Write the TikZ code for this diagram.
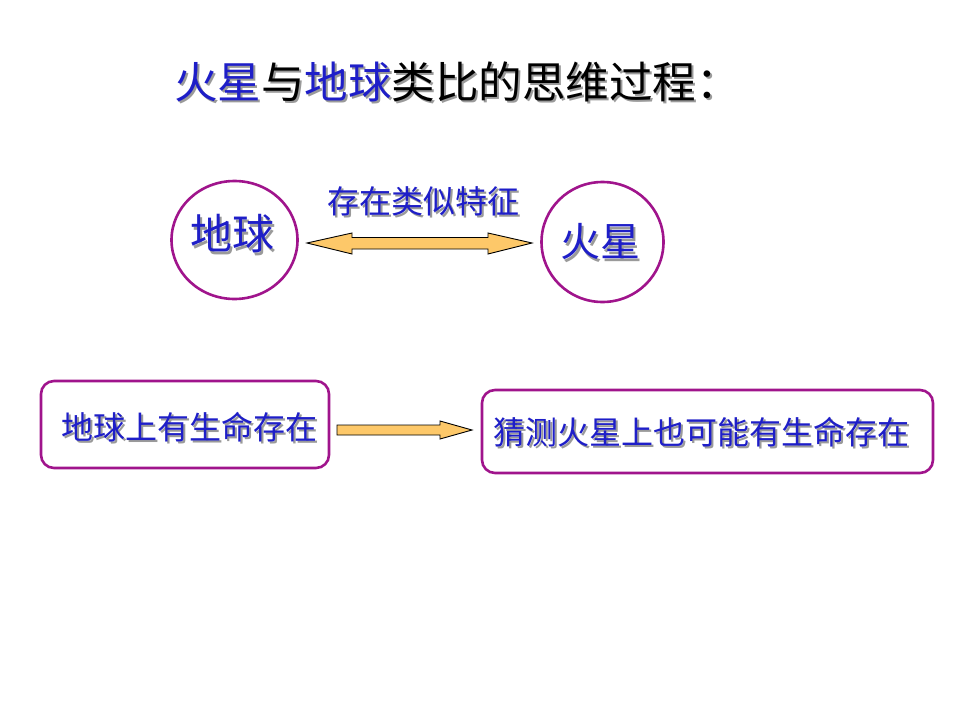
\documentclass[tikz,border=0pt]{standalone}
\usepackage{fontspec}
\setmainfont{Noto Sans CJK SC}
\newfontfamily\cjk{Noto Sans CJK SC}
\definecolor{ringc}{HTML}{A0148C}
\definecolor{txtblue}{HTML}{1E1EC8}
\definecolor{shadowc}{HTML}{9A9A9A}
\definecolor{arrowfill}{HTML}{FDC869}
\tikzset{
  ring/.style={draw=ringc, line width=2.6pt},
  rbox/.style={draw=ringc, line width=2.6pt, rounded corners=13pt},
  blockarrow/.style={draw=black, line width=0.9pt, fill=arrowfill, line join=miter},
  bluetxt/.style={text=txtblue, inner sep=0pt, anchor=center},
}
% text with a grey drop shadow, set as one box
\newcommand{\shadowed}[2]{% colour-of-text, text
  \rlap{\hspace{2.2pt}\raisebox{-2.2pt}{\textcolor{shadowc}{#2}}}\textcolor{#1}{#2}}
\newcommand{\shtext}[5]{% name, x, y, size, text
  \node[bluetxt, font=\cjk\fontsize{#4}{#4}\selectfont] (#1) at (#2,#3) {\shadowed{txtblue}{#5}};
}
\begin{document}
\begin{tikzpicture}[x=1pt,y=-1pt]
\useasboundingbox (0,0) rectangle (960,720);
\fill[white] (0,0) rectangle (960,720);

% title
\node[inner sep=0pt, font=\cjk\fontsize{43.5}{43.5}\selectfont] (title) at (457,83)
  {\shadowed{txtblue}{火星}\shadowed{black}{与}\shadowed{txtblue}{地球}\shadowed{black}{类比的思维过程：}};

% circles
\draw[ring] (234.5,240) ellipse [x radius=63, y radius=59];
\draw[ring] (602.5,242) ellipse [x radius=61, y radius=60];
\shtext{earth}{232}{235}{42}{地球}
\shtext{mars}{600}{243}{40}{火星}
\shtext{sim}{423}{202}{32}{存在类似特征}

% double arrow
\draw[blockarrow] (307,243) -- (352,233) -- (352,237.5) -- (488,237.5) -- (488,233)
  -- (532,243) -- (488,254) -- (488,249) -- (352,249) -- (352,254) -- cycle;

% boxes
\draw[rbox] (41,381) rectangle (329,468);
\draw[rbox] (482,390) rectangle (933,473);
\shtext{life}{189}{428}{32}{地球上有生命存在}
\shtext{guess}{701}{433}{32}{猜测火星上也可能有生命存在}

% single arrow
\draw[blockarrow] (337,425) -- (440,425) -- (440,421) -- (472,430) -- (440,439)
  -- (440,435) -- (337,435) -- cycle;
\end{tikzpicture}
\end{document}
